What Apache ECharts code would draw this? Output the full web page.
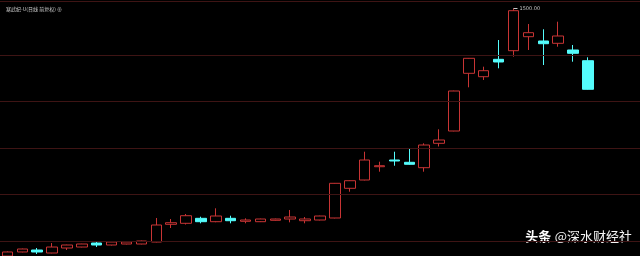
<!DOCTYPE html>
<html><head><meta charset="utf-8">
<script src="https://cdn.jsdelivr.net/npm/echarts@6/dist/echarts.min.js"></script>
<style>html,body{margin:0;padding:0;background:#000}#c{width:640px;height:256px}</style>
</head><body><div id="c"></div>
<script>
// candle slots (the last three slots are empty space on the right)
const categories = Array.from({length: 43}, (_, i) => 'K' + (i + 1));
// [open, close, low, high]
const opens  = [169,191,201.6,185.5,212.4,217.7,239.2,228.5,233.9,233.9,244.6,339.8,345.2,372.0,353.8,372.0,355.9,353.8,361.3,368.3,359.1,362.9,373.7,533.3,577.9,649.4,685.5,673.1,644.1,775.3,841.4,1151.6,1133.3,1226.8,1273.1,1348.4,1325.3,1312.9,1276.9,1219.3];
const closes = [191,207,190.9,217.7,228.5,233.9,228.5,244.6,244.6,250.0,336.0,348.4,386.0,353.8,384.4,359.1,362.9,368.3,368.3,379.0,368.3,384.4,560.2,574.2,685.5,654.8,680.1,662.4,766.1,793.0,1056.4,1232.2,1165.6,1212.4,1488.2,1369.9,1310.7,1352.2,1259.1,1065.6];
const lows   = [163,189,180.1,184,201.6,216,217.7,226,232,232,243,319.9,338.7,345.2,351,345.2,345.2,352,359,350.5,345.2,361,372,515.0,576,622.6,654.8,660,622.6,758.1,840,1076.3,1115.6,1178.5,1240.9,1276.9,1196.2,1294.6,1214.0,1064];
const highs  = [194,209,212.4,239.2,230,235,244.6,247,247,252,373.7,368.3,395.2,380.6,425.8,386.0,372.0,370,370,416.7,379.0,386,562,576,730.1,676.3,730.1,748.4,775.3,850.5,1058,1234,1187.1,1330.6,1500,1416.7,1388.2,1429.0,1303.8,1237.6];
const gridValues = [250, 500, 750, 1000, 1250];
const priceMin = 169.4;
const priceMax = 1540.3;
const peakIndex = 34;
const peakValue = 1500;
const peakLabel = '1500.00';
const titleText = '寒武纪-U(日线 前复权) ⊕';

const data = opens.map((_, i) => [opens[i], closes[i], lows[i], highs[i]]);

const chart = echarts.init(document.getElementById('c'), null, {renderer: 'canvas'});
chart.setOption({
  backgroundColor: '#000',
  animation: false,
  title: {
    text: titleText, left: 1, top: 2,
    textStyle: {color: '#d0d0d0', fontSize: 5, fontWeight: 'normal', fontFamily: 'Noto Sans CJK SC'}
  },
  grid: {left: -2, right: -1, top: 1, bottom: 0},
  xAxis: {
    type: 'category', data: categories, boundaryGap: true, position: 'top',
    axisLine: {show: true, lineStyle: {color: '#3e1414', width: 1}},
    axisTick: {show: false}, axisLabel: {show: false}, splitLine: {show: false}
  },
  yAxis: {
    type: 'value', min: priceMin, max: priceMax,
    axisLine: {show: false}, axisTick: {show: false}, axisLabel: {show: false}, splitLine: {show: false}
  },
  series: [{
    type: 'candlestick',
    data: data,
    barWidth: 11,
    clip: true,
    itemStyle: {
      color: '#000', color0: '#54fcfc',
      borderColor: '#c83434', borderColor0: '#54fcfc', borderWidth: 1
    },
    markLine: {
      silent: true, symbol: 'none', animation: false,
      label: {show: false},
      lineStyle: {color: '#3e1414', width: 1, type: 'solid'},
      data: gridValues.map(v => ({yAxis: v}))
    },
    markPoint: {
      silent: true, animation: false,
      symbol: 'rect', symbolSize: [4, 1],
      symbolOffset: [2, 0],
      itemStyle: {color: '#c8c8c8'},
      label: {
        show: true, position: 'right', distance: 2,
        formatter: peakLabel, color: '#c8c8c8', fontSize: 5,
        fontFamily: 'DejaVu Sans'
      },
      data: [{coord: [peakIndex, peakValue]}]
    }
  }],
  graphic: [{
    type: 'text', right: 8, top: 230,
    style: {
      text: '{a|头条} {b|@深水财经社}',
      rich: {
        a: {fontSize: 13, fontWeight: 'bold', fill: '#fff', fontFamily: 'Noto Sans CJK SC'},
        b: {fontSize: 13, fill: '#f4f4f4', fontFamily: 'Noto Sans CJK SC'}
      },
      fill: '#fff'
    }
  }]
});
</script></body></html>
